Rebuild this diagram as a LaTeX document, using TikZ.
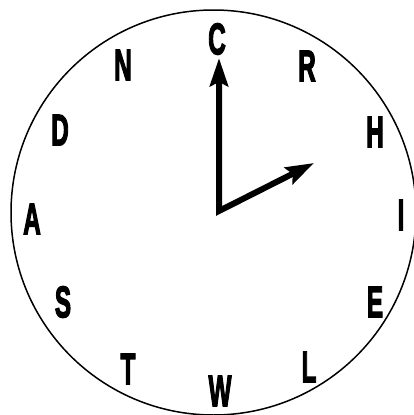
\documentclass[tikz,border=0pt]{standalone}
\usepackage{fontspec}
\newfontfamily\clockfont{Liberation Sans}[BoldFeatures={FakeBold=3.5}]
\usetikzlibrary{arrows.meta}
\tikzset{
  letter/.style={inner sep=0pt, font=\clockfont\bfseries\fontsize{42}{42}\selectfont, text=black},
  tip/.tip={Stealth[length=28pt,width=18pt,inset=4pt]},
  hand/.style={line width=6pt, line join=miter, tip-tip},
}
\newcommand{\cl}[1]{\scalebox{0.58}[1.05]{#1}}
\begin{document}
\begin{tikzpicture}[x=1pt,y=-1pt]
\useasboundingbox (0,0) rectangle (413,415);
\fill[white] (0,0) rectangle (413,415);
\node[circle, draw, line width=1.5pt, minimum size=405pt, inner sep=0pt] (face) at (213.5,212.5) {};
\node[letter] (C) at (217,39) {\cl{C}};
\node[letter] (R) at (307,66) {\cl{R}};
\node[letter] (H) at (375,132) {\cl{H}};
\node[letter] (I) at (401,215) {\cl{I}};
\node[letter] (E) at (375,302) {\cl{E}};
\node[letter] (L) at (309,367) {\cl{L}};
\node[letter] (W) at (220,391) {\cl{W}};
\node[letter] (T) at (128,369) {\cl{T}};
\node[letter] (S) at (63,302) {\cl{S}};
\node[letter] (A) at (32,219) {\cl{A}};
\node[letter] (D) at (60,130) {\cl{D}};
\node[letter] (N) at (123,65) {\cl{N}};
\coordinate (hub) at (219,211);
\coordinate (mtip) at (219,58);
\coordinate (htip) at (314,163);
\draw[hand] (mtip) -- (hub) -- (htip);
\end{tikzpicture}
\end{document}
